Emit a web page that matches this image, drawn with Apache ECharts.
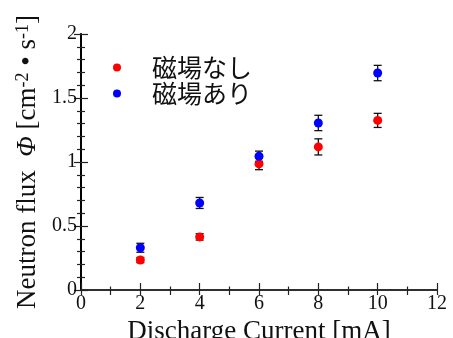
<!DOCTYPE html>
<html><head><meta charset="utf-8">
<script src="https://cdn.jsdelivr.net/npm/echarts@6/dist/echarts.min.js"></script>
<style>html,body{margin:0;padding:0;background:#fff}#c{width:453px;height:338px}</style>
</head><body><div id="c"></div>
<script>
const currents = [2, 4, 6, 8, 10];
const fluxNoField = [0.234, 0.415, 0.985, 1.118, 1.325];
const errNoField = [0.02, 0.025, 0.045, 0.063, 0.055];
const fluxField = [0.33, 0.68, 1.045, 1.305, 1.695];
const errField = [0.035, 0.043, 0.04, 0.06, 0.06];
const xTicks = [0, 2, 4, 6, 8, 10, 12];
const yTicks = [0, 0.5, 1, 1.5, 2];
const nameNoField = '磁場なし';
const nameField = '磁場あり';

const serif = 'Liberation Serif';
function pts(ys){ return currents.map((x,i)=>[x, ys[i]]); }
function errData(ys, es){ return currents.map((x,i)=>[x, ys[i], es[i]]); }
function errRender(params, api){
  const x = api.value(0), y = api.value(1), e = api.value(2);
  const lo = api.coord([x, y - e]), hi = api.coord([x, y + e]);
  const w = 4;
  const st = {stroke:'#111', lineWidth:1.3};
  return {type:'group', children:[
    {type:'line', shape:{x1:lo[0],y1:lo[1],x2:hi[0],y2:hi[1]}, style:st},
    {type:'line', shape:{x1:lo[0]-w,y1:lo[1],x2:lo[0]+w,y2:lo[1]}, style:st},
    {type:'line', shape:{x1:hi[0]-w,y1:hi[1],x2:hi[0]+w,y2:hi[1]}, style:st}
  ]};
}
const axisLine = {show:true, lineStyle:{color:'#222', width:1.5}};
const chart = echarts.init(document.getElementById('c'), null, {renderer:'canvas'});
chart.setOption({
  animation:false,
  backgroundColor:'#fff',
  grid:{left:81, top:34, right:16, bottom:48, containLabel:false, outerBoundsMode:'none'},
  legend:{
    orient:'vertical', left:108, top:50, itemGap:1,
    itemWidth:8, itemHeight:8,
    data:[{name:nameNoField, icon:'circle'},{name:nameField, icon:'circle'}],
    textStyle:{fontFamily:'Noto Sans CJK JP', fontSize:25, color:'#111', padding:[0,0,0,26]}
  },
  xAxis:[{
    type:'value', min:xTicks[0], max:xTicks[xTicks.length-1], interval:2,
    name:'Discharge Current [mA]', nameLocation:'middle', nameGap:22,
    nameTextStyle:{fontFamily:serif, fontSize:27, color:'#111'},
    axisLine:axisLine, axisTick:{inside:true, length:7, lineStyle:{color:'#222', width:1.2}},
    minorTick:{show:true, splitNumber:2, length:3.5, lineStyle:{color:'#222', width:1.2}},
    splitLine:{show:false},
    axisLabel:{fontFamily:serif, fontSize:20, color:'#111', margin:4}
  },{
    type:'value', position:'top', min:0, max:12, interval:2,
    axisLine:axisLine, axisTick:{inside:true, length:5, lineStyle:{color:'#222', width:1.2}},
    minorTick:{show:true, splitNumber:2, length:5, lineStyle:{color:'#222', width:1.2}},
    splitLine:{show:false}, axisLabel:{show:false}
  }],
  yAxis:[{
    type:'value', min:yTicks[0], max:yTicks[yTicks.length-1], interval:0.5,
    name:'Neutron flux  {i|Φ} [cm{sup|-2} • s{sup|-1}]', nameLocation:'middle', nameGap:28, nameRotate:90,
    nameTextStyle:{fontFamily:serif, fontSize:27, color:'#111',
      rich:{
        i:{fontFamily:serif, fontStyle:'italic', fontSize:27, color:'#111'},
        sup:{fontFamily:serif, fontSize:18, color:'#111', verticalAlign:'top'}
      }},
    axisLine:axisLine, axisTick:{inside:true, length:7, lineStyle:{color:'#222', width:1.2}},
    minorTick:{show:true, splitNumber:5, length:4, lineStyle:{color:'#222', width:1.2}},
    splitLine:{show:false},
    axisLabel:{fontFamily:serif, fontSize:20, color:'#111', margin:4}
  },{
    type:'value', position:'right', min:0, max:2, interval:0.5,
    axisLine:{show:true, lineStyle:{color:'#000', width:2}},
    axisTick:{inside:true, length:7, lineStyle:{color:'#222', width:1.2}},
    minorTick:{show:true, splitNumber:5, length:4, lineStyle:{color:'#222', width:1.2}},
    splitLine:{show:false}, axisLabel:{show:false}
  }],
  series:[
    {type:'custom', name:'errNo', renderItem:errRender, data:errData(fluxNoField, errNoField), z:1, encode:{x:0,y:1}},
    {type:'custom', name:'errYes', renderItem:errRender, data:errData(fluxField, errField), z:1, encode:{x:0,y:1}},
    {type:'scatter', name:nameNoField, data:pts(fluxNoField), symbol:'circle', symbolSize:9, itemStyle:{color:'#ff0000', opacity:1}, z:3},
    {type:'scatter', name:nameField, data:pts(fluxField), symbol:'circle', symbolSize:9, itemStyle:{color:'#0000ff', opacity:1}, z:3}
  ]
});
</script></body></html>
